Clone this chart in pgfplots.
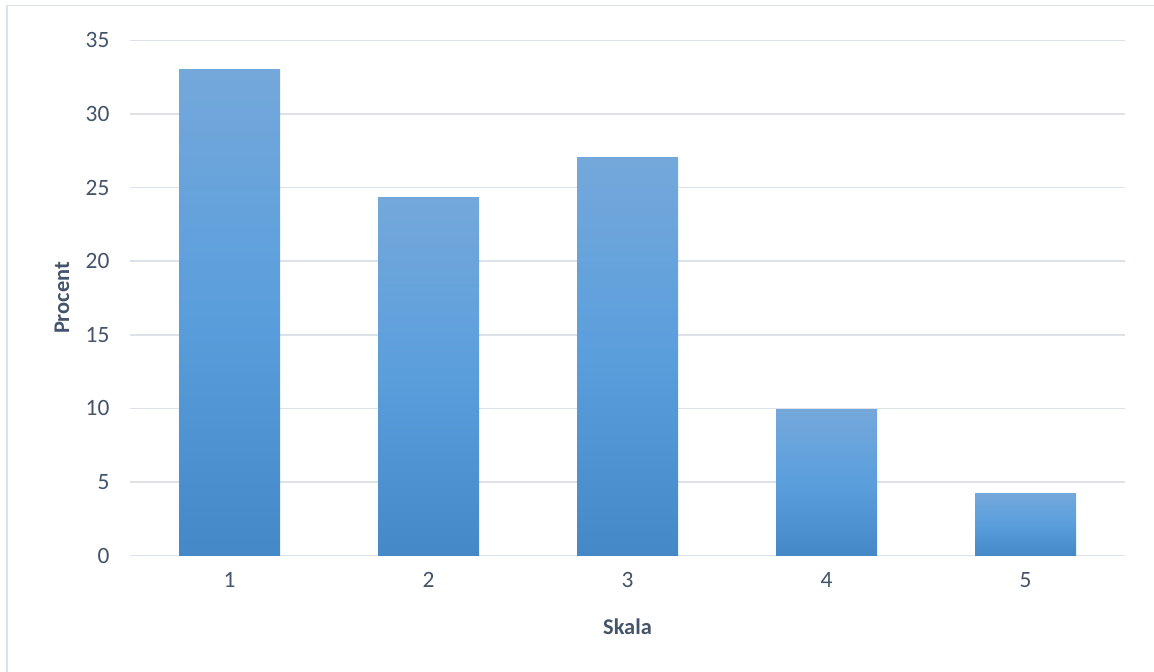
\documentclass[border=0pt]{standalone}
\usepackage{pgfplots}
\pgfplotsset{compat=1.18}
\usepackage{fontspec}
\setmainfont{Carlito}
\definecolor{txt}{HTML}{44546A}
\definecolor{gridc}{HTML}{DDE1E8}
\definecolor{bartop}{HTML}{74A8DB}
\definecolor{barmid}{HTML}{5A9EDC}
\definecolor{barbot}{HTML}{4488C8}
\begin{document}
\begin{tikzpicture}[x=1bp,y=1bp]
\useasboundingbox (0,0) rectangle (1154,672);
\draw[gridc, line width=1.5bp] (7,0) -- (7,666.5) -- (1154,666.5);
\begin{axis}[
  at={(130bp,116.3bp)}, anchor=south west,
  scale only axis, width=995bp, height=515.4bp,
  xmin=0.5, xmax=5.5, ymin=0, ymax=35,
  ytick={0,5,...,35}, xtick={1,2,3,4,5},
  axis line style={draw=none},
  major tick length=0pt,
  ymajorgrids, grid style={gridc, line width=1.5bp},
  /pgf/number format/assume math mode=true,
  ticklabel style={font=\fontsize{23.5}{28}\selectfont, text=txt},
  xticklabel style={yshift=-13.5bp},
  yticklabel style={xshift=-17bp},
  xlabel={Skala}, ylabel={Procent},
  label style={font=\fontsize{22.5}{27}\selectfont\bfseries, text=txt},
  xlabel style={at={(axis description cs:0.5,-0.1376)}, anchor=center},
  ylabel style={at={(axis description cs:-0.0683,0.5)}, anchor=center},
  barstyle/.style={ybar, bar shift=0pt, bar width=101bp, draw=none, top color=bartop, bottom color=barbot, middle color=barmid},
]
\addplot[barstyle] coordinates {(1,33.05)};
\addplot[barstyle] coordinates {(2,24.35)};
\addplot[barstyle] coordinates {(3,27.05)};
\addplot[barstyle] coordinates {(4,9.95)};
\addplot[barstyle] coordinates {(5,4.25)};
\end{axis}
\end{tikzpicture}
\end{document}
